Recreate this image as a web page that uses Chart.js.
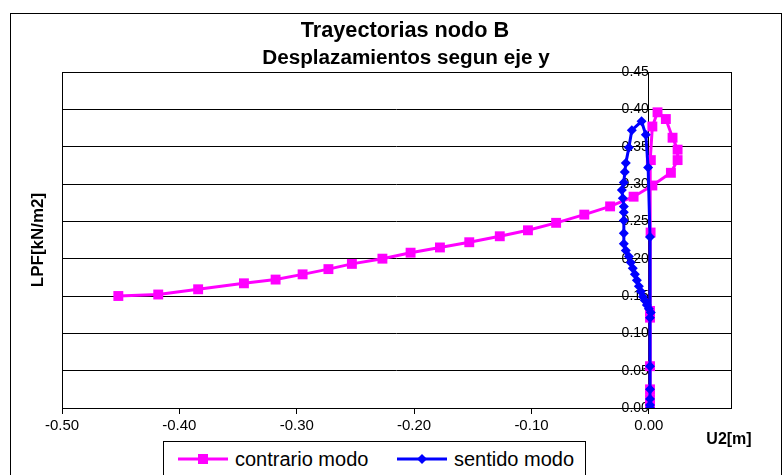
<!DOCTYPE html>
<html>
<head>
<meta charset="utf-8">
<script src="https://cdn.jsdelivr.net/npm/chart.js@4.4.1/dist/chart.umd.min.js"></script>
<style>
    body { margin: 0; background: #fff; }
    #wrap { position: relative; width: 784px; height: 475px; overflow: hidden; }
    #legend {
        position: absolute; left: 163px; top: 441px; width: 421px; height: 40px;
        border: 1px solid #000; background: #fff;
        font-family: "Liberation Sans", Arial, sans-serif; font-size: 20px; color: #000;
    }
    #legend .item { position: absolute; top: 5px; height: 24px; line-height: 24px; white-space: nowrap; }
    #legend svg { vertical-align: middle; margin-right: 5px; position: relative; top: -2px; }
</style>
</head>
<body>
<div id="wrap">
    <canvas id="chart" width="784" height="475"></canvas>
    <div id="legend">
        <div class="item" style="left: 14px;">
            <svg width="52" height="12"><line x1="0" y1="6" x2="50" y2="6" stroke="#FF00FF" stroke-width="3"/><rect x="20" y="1" width="10" height="10" fill="#FF00FF"/></svg>contrario modo
        </div>
        <div class="item" style="left: 233px;">
            <svg width="52" height="12"><line x1="0" y1="6" x2="50" y2="6" stroke="#0000FF" stroke-width="3"/><polygon points="25,1 30,6 25,11 20,6" fill="#0000FF"/></svg>sentido modo
        </div>
    </div>
</div>
<script>
    // ------------------------------------------------------
    // @Data
    // ------------------------------------------------------

    const contrarioU2  = [0.001, 0.001, 0.001, 0.001, 0.001, 0.001, 0.001, 0.0015, 0.0017, 0.003, 0.0074, 0.0145, 0.0202, 0.0245, 0.0245, 0.0188, 0.003, -0.013, -0.033, -0.055, -0.079, -0.103, -0.127, -0.153, -0.178, -0.203, -0.227, -0.253, -0.273, -0.295, -0.318, -0.345, -0.384, -0.418, -0.452];
    const contrarioLPF = [0, 0.004, 0.012, 0.025, 0.056, 0.121, 0.13, 0.235, 0.332, 0.377, 0.396, 0.387, 0.362, 0.346, 0.332, 0.315, 0.298, 0.283, 0.27, 0.259, 0.248, 0.238, 0.23, 0.222, 0.215, 0.208, 0.2, 0.193, 0.186, 0.179, 0.172, 0.167, 0.159, 0.152, 0.15];

    const sentidoU2  = [0.001, 0.001, 0.001, 0.001, 0.001, 0.001, 0.001, -0.0006, -0.0026, -0.0062, -0.0145, -0.017, -0.0196, -0.0205, -0.0213, -0.023, -0.0222, -0.0213, -0.0213, -0.0213, -0.0213, -0.0213, -0.0196, -0.017, -0.0154, -0.0137, -0.0119, -0.0102, -0.0085, -0.0068, -0.0051, -0.0034, -0.0017, 0, 0.0017];
    const sentidoLPF = [0, 0.004, 0.012, 0.025, 0.056, 0.121, 0.229, 0.322, 0.366, 0.384, 0.372, 0.349, 0.328, 0.316, 0.302, 0.292, 0.281, 0.27, 0.262, 0.251, 0.234, 0.22, 0.211, 0.203, 0.195, 0.187, 0.179, 0.171, 0.163, 0.156, 0.149, 0.144, 0.138, 0.133, 0.128];

    const seriesNames = ['contrario modo', 'sentido modo'];
    const titleLines  = ['Trayectorias nodo B', 'Desplazamientos segun eje y'];
    const xTickValues = [-0.5, -0.4, -0.3, -0.2, -0.1, 0];

    const FONT = '"Liberation Sans", Arial, sans-serif';

    const toPoints = (xs, ys) => xs.map((x, i) => ({ x: x, y: ys[i] }));

    // frame, plot border, titles and axis titles
    const decorations = {
        id: 'decorations',
        afterDraw(chart) {
            const { ctx, chartArea } = chart;
            ctx.save();
            ctx.strokeStyle = '#000';
            ctx.lineWidth = 1;
            ctx.strokeRect(10.5, 13.5, 771, 480);
            ctx.strokeRect(chartArea.left + 0.5, chartArea.top + 0.5,
                chartArea.right - chartArea.left, chartArea.bottom - chartArea.top);

            ctx.fillStyle = '#000';
            ctx.textAlign = 'center';
            ctx.textBaseline = 'middle';
            ctx.font = 'bold 21.7px ' + FONT;
            ctx.fillText(titleLines[0], 405, 31);
            ctx.font = 'bold 20.7px ' + FONT;
            ctx.fillText(titleLines[1], 406, 58);

            ctx.font = 'bold 16px ' + FONT;
            ctx.fillText('U2[m]', 729, 440);

            ctx.font = 'bold 17px ' + FONT;
            ctx.translate(38, 240);
            ctx.rotate(-Math.PI / 2);
            ctx.fillText('LPF[kN/m2]', 0, 0);
            ctx.restore();
        },
    };

    new Chart(document.getElementById('chart').getContext('2d'), {
        type: 'scatter',
        data: {
            datasets: [{
                label           : seriesNames[0],
                data            : toPoints(contrarioU2, contrarioLPF),
                showLine        : true,
                borderColor     : '#FF00FF',
                backgroundColor : '#FF00FF',
                borderWidth     : 3,
                pointStyle      : 'rect',
                pointRadius     : 7,
                pointBorderWidth: 0,
                order           : 1,
            }, {
                label           : seriesNames[1],
                data            : toPoints(sentidoU2, sentidoLPF),
                showLine        : true,
                borderColor     : '#0000FF',
                backgroundColor : '#0000FF',
                borderWidth     : 3,
                pointStyle      : 'rectRot',
                pointRadius     : 5,
                pointBorderWidth: 0,
                order           : 0,
            }],
        },
        plugins: [decorations],
        options: {
            responsive: false,
            animation: false,
            devicePixelRatio: 1,
            layout: {
                padding: { left: 62, right: 53, top: 72, bottom: 37 },
            },
            plugins: {
                legend: { display: false },
                tooltip: { enabled: false },
                title: { display: false },
            },
            scales: {
                x: {
                    type: 'linear',
                    position: 'bottom',
                    min: -0.5,
                    max: 0.07,
                    afterBuildTicks: (axis) => {
                        axis.ticks = xTickValues.map(v => ({ value: v }));
                    },
                    grid: {
                        drawOnChartArea: false,
                        drawTicks: true,
                        tickLength: 6,
                        color: '#000',
                    },
                    border: { color: '#000', width: 1 },
                    ticks: {
                        color: '#000',
                        padding: 3,
                        maxRotation: 0,
                        font: { family: FONT, size: 15 },
                        callback: (v) => Number(v).toFixed(2),
                    },
                },
                y: {
                    type: 'linear',
                    position: { x: 0 },
                    min: 0,
                    max: 0.45,
                    grid: {
                        color: '#000',
                        lineWidth: 1,
                        drawTicks: true,
                        tickLength: 4,
                    },
                    border: { color: '#000', width: 1 },
                    ticks: {
                        color: '#000',
                        stepSize: 0.05,
                        padding: 2,
                        font: { family: FONT, size: 14 },
                        callback: (v) => Number(v).toFixed(2),
                    },
                },
            },
        },
    });
</script>
</body>
</html>
